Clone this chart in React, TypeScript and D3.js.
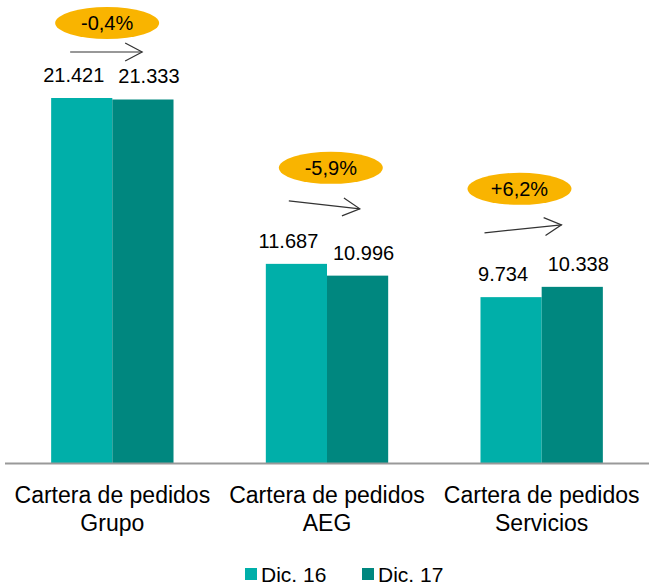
import React from "react";
import * as d3 from "d3";

const categories = ["Cartera de pedidos\nGrupo", "Cartera de pedidos\nAEG", "Cartera de pedidos\nServicios"];
const seriesNames = ["Dic.16", "Dic.17"];
const dic16 = [21421, 11687, 9734];
const dic17 = [21333, 10996, 10338];
const changes = ["-0,4%", "-5,9%", "+6,2%"];

const colors = ["#00AFA9", "#00877F"];
const W = 649;
const H = 587;
const FONT = "'Liberation Sans', Arial, sans-serif";

// annotation placement per group (offsets from group start / top of tallest bar)
const bubbles = [
  { dx: 56, dy: -75 },
  { dx: 65, dy: -96 },
  { dx: 39, dy: -98 },
];
const arrows = [
  { x1: 19, y1: -46, x2: 91, y2: -46 },
  { x1: 23, y1: -63, x2: 94, y2: -55 },
  { x1: 4, y1: -54, x2: 81, y2: -62 },
];
const labelShift = [-8, 6];

const fmt = (v: number) => d3.format(",")(v).replace(/,/g, ".");

export default function App() {
  const x = d3.scaleBand<string>().domain(categories).range([5, 649]).paddingInner(0.43).paddingOuter(0.215);
  const xi = d3.scaleBand<string>().domain(seriesNames).range([0, x.bandwidth()]);
  const y = d3.scaleLinear().domain([0, 21421]).range([463, 98]);
  const series = [dic16, dic17];

  return (
    <svg width={W} height={H} style={{ display: "block", position: "absolute", left: 0, top: 0 }} fontFamily={FONT}>
      <defs>
        <marker id="ah" viewBox="0 0 20 20" refX="18" refY="10" markerWidth="20" markerHeight="20" markerUnits="userSpaceOnUse" orient="auto">
          <path d="M1,1 L18,10 L1,19" fill="none" stroke="#333" strokeWidth={1.2} />
        </marker>
      </defs>
      {categories.map((c, i) => {
        const gx = x(c)!;
        const top = y(Math.max(dic16[i], dic17[i]));
        return (
          <g key={c}>
            {seriesNames.map((s, j) => {
              const v = series[j][i];
              const bx = gx + xi(s)!;
              return (
                <g key={s}>
                  <rect x={bx} y={y(v)} width={xi.bandwidth()} height={y(0) - y(v)} fill={colors[j]} />
                  <text x={bx + xi.bandwidth() / 2 + labelShift[j]} y={y(v) - 16} textAnchor="middle" fontSize={20} fill="#000">
                    {fmt(v)}
                  </text>
                </g>
              );
            })}
            <ellipse cx={gx + bubbles[i].dx} cy={top + bubbles[i].dy} rx={52} ry={16} fill="#F9B400" />
            <text x={gx + bubbles[i].dx} y={top + bubbles[i].dy + 7} textAnchor="middle" fontSize={20} fill="#000">
              {changes[i]}
            </text>
            <line
              x1={gx + arrows[i].x1}
              y1={top + arrows[i].y1}
              x2={gx + arrows[i].x2}
              y2={top + arrows[i].y2}
              stroke="#333"
              strokeWidth={1.2}
              markerEnd="url(#ah)"
            />
            {c.split("\n").map((line, k) => (
              <text key={k} x={gx + x.bandwidth() / 2} y={503 + k * 28} textAnchor="middle" fontSize={23} fill="#000">
                {line}
              </text>
            ))}
          </g>
        );
      })}
      <line x1={5} x2={649} y1={463.5} y2={463.5} stroke="#999" strokeWidth={2} />
      {seriesNames.map((s, j) => (
        <g key={s} transform={`translate(${245 + j * 117},0)`}>
          <rect x={0} y={568} width={12} height={12} fill={colors[j]} />
          <text x={16} y={582} fontSize={21} fill="#000">
            {s.replace(".", ". ")}
          </text>
        </g>
      ))}
    </svg>
  );
}
